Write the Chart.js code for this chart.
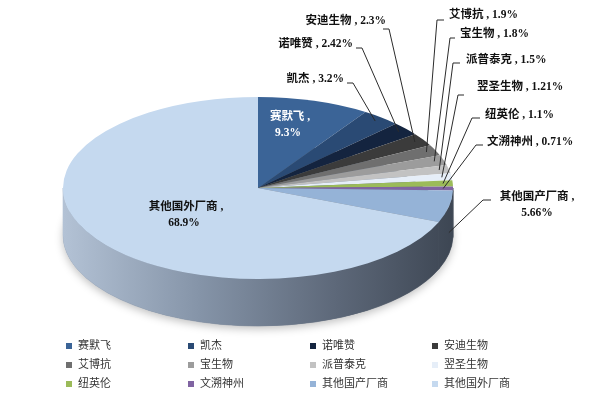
<!DOCTYPE html>
<html>
<head>
<meta charset="utf-8">
<script src="https://cdn.jsdelivr.net/npm/chart.js@4.4.1/dist/chart.umd.min.js"></script>
<style>
  html, body { margin: 0; background: #fff; }
  #wrap { width: 594px; height: 399px; position: relative; }
</style>
</head>
<body>
<div id="wrap"><canvas id="shareChart"></canvas></div>
<script>
// market share by vendor (%)
const vendors = ["赛默飞", "凯杰", "诺唯赞", "安迪生物", "艾博抗", "宝生物", "派普泰克", "翌圣生物", "纽英伦", "文溯神州", "其他国产厂商", "其他国外厂商"];
const shares = [9.3, 3.2, 2.42, 2.3, 1.9, 1.8, 1.5, 1.21, 1.1, 0.71, 5.66, 68.9];
const sliceColors = ["#3b6497", "#2a4a74", "#14243f", "#3b3b3b", "#6f6f6f", "#9c9c9c", "#c2c2c2", "#e6eef8", "#9bbb59", "#8064a2", "#95b3d7", "#c5d9ef"];

// where the flattened pie sits on the page
const PIE = { cx: 258, cy: 188, rx: 195, ry: 91, depth: 47 };

// label placement: text position, leader tick [x near text, elbow x, y]
const labelSpots = [
    { inside: true, x: 290, y: 117, color: "#ffffff" },
    { x: 344, y: 79, align: "right", tick: [347, 353, 83] },
    { x: 353, y: 44, align: "right", tick: [356, 362, 48] },
    { x: 386, y: 21, align: "right", tick: [383, 389, 29] },
    { x: 449, y: 15, align: "left", tick: [444, 437, 20] },
    { x: 460, y: 34, align: "left", tick: [455, 450, 38] },
    { x: 466, y: 60, align: "left", tick: [460, 453, 63] },
    { x: 477, y: 87, align: "left", tick: [464, 458, 95] },
    { x: 485, y: 115, align: "left", tick: [480, 472, 118] },
    { x: 487, y: 142, align: "left", tick: [483, 476, 145] },
    { x: 537, y: 197, align: "center", twoLine: true, tick: [491, 483, 200], drop: 26, k: 1 },
    { inside: true, x: 186, y: 207, color: "#111111" }
];

const LEGEND = { x0: 66, dx: 122, y0: 346, dy: 19, box: 6, gap: 12, cols: 4 };

const labelFont = 'bold 11.5px "Liberation Serif", "Noto Sans CJK SC"';
const legendFont = '11px "Liberation Serif", "Noto Sans CJK SC"';

// map a pie angle to the page ellipse
function onEllipse(angle, k, dy) {
    return [PIE.cx + PIE.rx * k * Math.cos(angle), PIE.cy + PIE.ry * k * Math.sin(angle) + (dy || 0)];
}

const pie3d = {
    id: "pie3d",
    beforeDatasetsDraw(chart) {
        const ctx = chart.ctx;
        const arcs = chart.getDatasetMeta(0).data;

        // soft shadow under the disc
        ctx.save();
        ctx.shadowColor = "rgba(0,0,0,0.25)";
        ctx.shadowBlur = 8;
        ctx.shadowOffsetY = 3;
        ctx.fillStyle = "#6a7585";
        ctx.beginPath();
        ctx.ellipse(PIE.cx, PIE.cy + PIE.depth, PIE.rx, PIE.ry, 0, 0, Math.PI * 2);
        ctx.fill();
        ctx.restore();

        // side wall, one piece per slice on the front half
        const grad = ctx.createLinearGradient(PIE.cx - PIE.rx, 0, PIE.cx + PIE.rx, 0);
        grad.addColorStop(0, "#b3c2d5");
        grad.addColorStop(0.35, "#8594a8");
        grad.addColorStop(0.7, "#5d6879");
        grad.addColorStop(1, "#3d4653");
        ctx.save();
        ctx.fillStyle = grad;
        ctx.strokeStyle = grad;
        ctx.lineWidth = 0.6;
        arcs.forEach(arc => {
            const a1 = Math.max(arc.startAngle, 0);
            const a2 = Math.min(arc.endAngle, Math.PI);
            if (a2 <= a1) return;
            ctx.beginPath();
            ctx.ellipse(PIE.cx, PIE.cy, PIE.rx, PIE.ry, 0, a1, a2, false);
            ctx.ellipse(PIE.cx, PIE.cy + PIE.depth, PIE.rx, PIE.ry, 0, a2, a1, true);
            ctx.closePath();
            ctx.fill();
            ctx.stroke();
        });
        ctx.restore();

        // squash the round pie onto the ellipse
        const { x, y, outerRadius } = arcs[0];
        ctx.save();
        ctx.translate(PIE.cx, PIE.cy);
        ctx.scale(PIE.rx / outerRadius, PIE.ry / outerRadius);
        ctx.translate(-x, -y);
    },
    afterDatasetsDraw(chart) {
        const ctx = chart.ctx;
        ctx.restore();
        const arcs = chart.getDatasetMeta(0).data;
        const values = chart.data.datasets[0].data;

        ctx.save();
        ctx.font = labelFont;
        ctx.textBaseline = "middle";
        arcs.forEach((arc, i) => {
            const spot = labelSpots[i];
            const name = chart.data.labels[i];
            const pct = values[i] + "%";
            if (spot.inside) {
                ctx.fillStyle = spot.color;
                ctx.textAlign = "center";
                ctx.fillText(name + " ,", spot.x, spot.y);
                ctx.fillText(pct, spot.x - 2, spot.y + 16);
                return;
            }
            // leader line
            const mid = (arc.startAngle + arc.endAngle) / 2;
            const [ax, ay] = onEllipse(mid, spot.k || 0.95, spot.drop);
            ctx.strokeStyle = "#2b2b2b";
            ctx.lineWidth = 1;
            ctx.beginPath();
            ctx.moveTo(spot.tick[0], spot.tick[2]);
            ctx.lineTo(spot.tick[1], spot.tick[2]);
            ctx.lineTo(ax, ay);
            ctx.stroke();

            ctx.fillStyle = "#111111";
            ctx.textAlign = spot.align;
            if (spot.twoLine) {
                ctx.fillText(name + " ,", spot.x, spot.y);
                ctx.fillText(pct, spot.x, spot.y + 16);
            } else {
                ctx.fillText(name + " , " + pct, spot.x, spot.y);
            }
        });
        ctx.restore();
    },
    afterDraw(chart) {
        // legend grid, 4 columns
        const ctx = chart.ctx;
        const colors = chart.data.datasets[0].backgroundColor;
        ctx.save();
        ctx.font = legendFont;
        ctx.textBaseline = "middle";
        ctx.textAlign = "left";
        chart.data.labels.forEach((name, i) => {
            const col = i % LEGEND.cols;
            const row = Math.floor(i / LEGEND.cols);
            const x = LEGEND.x0 + col * LEGEND.dx;
            const y = LEGEND.y0 + row * LEGEND.dy;
            ctx.fillStyle = colors[i];
            ctx.fillRect(x, y - LEGEND.box / 2, LEGEND.box, LEGEND.box);
            ctx.fillStyle = "#333333";
            ctx.fillText(name, x + LEGEND.gap, y);
        });
        ctx.restore();
    }
};

new Chart(document.getElementById("shareChart"), {
    type: "pie",
    data: {
        labels: vendors,
        datasets: [{
            data: shares,
            backgroundColor: sliceColors,
            borderWidth: 0
        }]
    },
    options: {
        responsive: true,
        maintainAspectRatio: false,
        animation: false,
        events: [],
        layout: { padding: 20 },
        plugins: {
            legend: { display: false },
            tooltip: { enabled: false }
        }
    },
    plugins: [pie3d]
});
</script>
</body>
</html>
